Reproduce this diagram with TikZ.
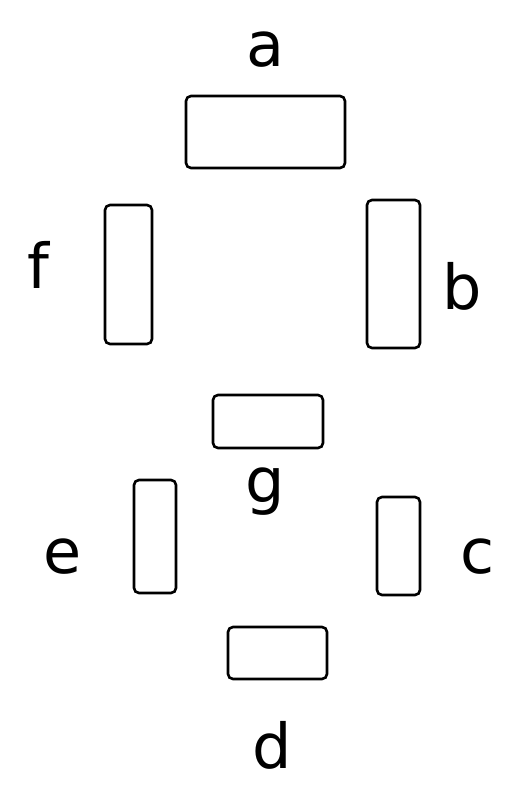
\documentclass[tikz,border=0pt]{standalone}
\usepackage{fontspec}
\setmainfont{DejaVu Sans}

\begin{document}
\begin{tikzpicture}[x=1pt, y=-1pt,
    segmento/.style={draw, line width=2.6pt, rounded corners=5pt, inner sep=0pt},
    etiqueta/.style={inner sep=0pt, font=\fontsize{62}{62}\selectfont}]
    \useasboundingbox (0,0) rectangle (523,806);

    % Los siete segmentos del visor.
    \node[segmento, minimum width=159pt, minimum height=72pt] (a) at (265.5,132) {};
    \node[segmento, minimum width=53pt, minimum height=148pt] (b) at (393.5,274) {};
    \node[segmento, minimum width=43pt, minimum height=98pt] (c) at (398.5,546) {};
    \node[segmento, minimum width=99pt, minimum height=52pt] (d) at (277.5,653) {};
    \node[segmento, minimum width=42pt, minimum height=113pt] (e) at (155,536.5) {};
    \node[segmento, minimum width=47pt, minimum height=139pt] (f) at (128.5,274.5) {};
    \node[segmento, minimum width=110pt, minimum height=53pt] (g) at (268,421.5) {};

    % Nombres de los segmentos.
    \node[etiqueta] (la) at (265,50) {a};
    \node[etiqueta] (lb) at (462,286) {b};
    \node[etiqueta] (lc) at (478,557) {c};
    \node[etiqueta] (ld) at (272,745) {d};
    \node[etiqueta] (le) at (63,557) {e};
    \node[etiqueta] (lf) at (38,265) {f};
    \node[etiqueta] (lg) at (265,492) {g};
\end{tikzpicture}
\end{document}
